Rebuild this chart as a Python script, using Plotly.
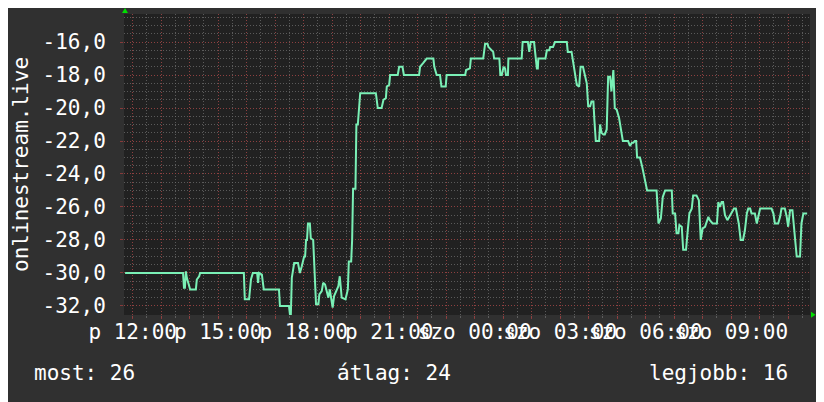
import plotly.graph_objects as go

# minutes after Friday 12:00
minutes = [
    -16, 106, 108, 110, 112, 114, 121, 133, 135, 140, 142, 234, 236, 245, 249, 253,
    262, 264, 266, 272, 276, 308, 310, 329, 331, 333, 335, 340, 348, 352, 356, 361,
    363, 365, 367, 369, 373, 375, 380, 382, 386, 391, 393, 398, 401, 405, 408, 412,
    415, 419, 421, 424, 429, 433, 436, 440, 448, 453, 455, 460, 462, 464, 469, 471,
    474, 476, 479, 512, 516, 524, 528, 533, 535, 540, 542, 558, 561, 568, 571, 603,
    605, 611, 619, 633, 635, 640, 647, 650, 659, 661, 700, 702, 710, 712, 738, 742,
    747, 749, 752, 756, 759, 761, 772, 774, 777, 781, 784, 786, 790, 791, 819, 821,
    832, 835, 838, 845, 847, 851, 853, 854, 869, 872, 877, 879, 885, 889, 914, 916,
    924, 928, 931, 935, 940, 943, 948, 952, 956, 959, 963, 966, 970, 972, 975, 982,
    984, 987, 991, 994, 998, 1001, 1005, 1008, 1012, 1015, 1019, 1024, 1028, 1032, 1043, 1047,
    1051, 1054, 1057, 1060, 1062, 1068, 1073, 1078, 1083, 1103, 1107, 1112, 1116, 1121, 1135, 1137,
    1142, 1145, 1149, 1151, 1156, 1159, 1165, 1168, 1172, 1177, 1180, 1187, 1192, 1196, 1200, 1205,
    1212, 1215, 1221, 1230, 1233, 1236, 1240, 1243, 1247, 1252, 1256, 1261, 1266, 1270, 1273, 1276,
    1280, 1285, 1289, 1293, 1296, 1300, 1303, 1310, 1314, 1317, 1321, 1345, 1349, 1352, 1359, 1363,
    1366, 1373, 1377, 1380, 1384, 1389, 1394, 1398, 1405, 1408, 1412, 1420,
]
values = [
    -30.0, -30.0, -30.9, -30.9, -29.9, -30.3, -31.0, -31.0, -30.4, -30.2, -30.0, -30.0, -31.6, -31.6, -30.4, -30.0,
    -30.0, -30.6, -30.0, -30.1, -31.0, -31.0, -32.0, -32.0, -32.5, -32.5, -30.3, -29.4, -29.4, -30.0, -29.6, -29.0,
    -29.0, -28.0, -28.0, -27.0, -27.0, -27.9, -28.0, -29.5, -31.9, -31.9, -31.3, -31.1, -30.6, -30.7, -31.0, -31.5,
    -31.0, -31.6, -32.1, -31.4, -31.0, -30.8, -30.2, -31.5, -31.6, -31.0, -29.3, -29.3, -28.0, -24.9, -24.9, -21.0,
    -21.0, -20.2, -19.1, -19.1, -20.0, -20.0, -19.5, -19.4, -18.7, -18.6, -18.0, -18.0, -17.5, -17.5, -18.0, -18.0,
    -17.5, -17.3, -17.0, -17.0, -17.5, -18.0, -18.0, -18.7, -18.7, -18.0, -18.0, -17.7, -17.6, -17.0, -17.0, -16.1,
    -16.1, -16.3, -16.4, -16.5, -16.6, -17.0, -17.0, -18.0, -18.0, -17.5, -17.6, -18.0, -18.0, -17.0, -17.0, -16.0,
    -16.0, -16.6, -16.0, -16.0, -16.6, -17.6, -17.6, -17.0, -17.0, -16.5, -16.5, -16.3, -16.3, -16.0, -16.0, -16.6,
    -16.6, -17.4, -17.9, -18.6, -18.7, -17.5, -17.5, -18.0, -18.5, -19.9, -19.9, -19.6, -19.6, -20.7, -22.0, -22.0,
    -21.0, -21.5, -21.6, -21.6, -21.3, -18.1, -18.1, -19.0, -17.7, -20.0, -20.1, -20.6, -21.3, -22.0, -22.0, -22.3,
    -22.1, -22.1, -22.0, -22.0, -23.0, -23.0, -23.6, -24.4, -25.0, -25.0, -27.0, -26.7, -25.4, -25.0, -25.0, -26.4,
    -26.4, -27.6, -27.6, -27.1, -27.2, -28.6, -28.6, -27.6, -26.4, -26.1, -25.3, -25.3, -25.6, -28.0, -27.3, -27.2,
    -26.6, -26.8, -27.0, -27.0, -25.7, -26.0, -25.7, -25.7, -26.5, -26.8, -26.6, -26.3, -26.1, -26.1, -26.6, -27.0,
    -28.0, -28.0, -27.4, -26.4, -26.1, -26.1, -26.4, -26.4, -27.0, -26.6, -26.1, -26.1, -26.4, -27.0, -27.0, -26.6,
    -26.1, -26.1, -26.6, -27.2, -26.2, -26.2, -28.0, -29.0, -29.0, -27.0, -26.4, -26.4,
]

x_tick_vals = [0, 180, 360, 540, 720, 900, 1080, 1260]
x_tick_text = ['p 12:00', 'p 15:00', 'p 18:00', 'p 21:00',
               'szo 00:00', 'szo 03:00', 'szo 06:00', 'szo 09:00']
y_tick_vals = [-32, -30, -28, -26, -24, -22, -20, -18, -16]
y_tick_text = ['-32,0', '-30,0', '-28,0', '-26,0', '-24,0', '-22,0', '-20,0', '-18,0', '-16,0']

legend_items = ['most: 26', 'átlag: 24', 'legjobb: 16']

FONT = 'DejaVu Sans Mono'
RED_GRID = 'rgba(150, 60, 60, 0.85)'
GRAY_GRID = 'rgba(110, 110, 110, 0.75)'

# hourly grid lines, labels only every 3 hours
hour_vals = list(range(0, 1440, 60))
hour_text = [x_tick_text[x_tick_vals.index(v)] if v in x_tick_vals else '' for v in hour_vals]

fig = go.Figure()
fig.add_trace(go.Scatter(
    x=minutes,
    y=values,
    mode='lines',
    line=dict(color='#7af0b6', width=2),
    showlegend=False,
    hoverinfo='skip',
))

fig.update_xaxes(
    range=[-18.3, 1426],
    tickmode='array',
    tickvals=hour_vals,
    ticktext=hour_text,
    tickangle=0,
    automargin=False,
    showgrid=True,
    gridcolor=RED_GRID,
    griddash='1px,2px',
    gridwidth=1,
    ticks='outside',
    ticklen=3,
    tickcolor=RED_GRID,
    ticklabelstandoff=-5,
    zeroline=False,
    showline=False,
    minor=dict(tick0=0, dtick=30, showgrid=True, gridcolor=GRAY_GRID,
               griddash='1px,2px', ticks='outside', ticklen=2, tickcolor=GRAY_GRID),
    tickfont=dict(family=FONT, size=21, color='#ffffff'),
)
fig.update_yaxes(
    range=[-32.55, -14.3],
    tickmode='array',
    tickvals=y_tick_vals,
    ticktext=y_tick_text,
    automargin=False,
    showgrid=True,
    gridcolor=RED_GRID,
    griddash='1px,2px',
    gridwidth=1,
    ticks='outside',
    ticklen=3,
    tickcolor=RED_GRID,
    ticklabelstandoff=10,
    zeroline=False,
    showline=False,
    minor=dict(tick0=0, dtick=0.5, showgrid=True, gridcolor=GRAY_GRID,
               griddash='1px,2px', ticks=''),
    tickfont=dict(family=FONT, size=21, color='#ffffff'),
)

# little green arrows at the axis ends
fig.add_shape(type='path', xref='paper', yref='paper',
              path='M -0.0029,1.0033 L 0.0058,1.0033 L 0.0015,1.0199 Z',
              fillcolor='#00e000', line=dict(width=0))
fig.add_shape(type='path', xref='paper', yref='paper',
              path='M 1.0015,0.0110 L 1.0015,-0.0090 L 1.0080,0.0010 Z',
              fillcolor='#00e000', line=dict(width=0))

fig.add_annotation(text='onlinestream.live', xref='paper', yref='paper',
                   x=-0.151, y=0.5, xanchor='center', yanchor='middle',
                   textangle=-90, showarrow=False, borderpad=0,
                   font=dict(family=FONT, size=21, color='#ffffff'))

for txt, xpos, anchor in zip(legend_items, [-0.134, 0.3076, 0.971], ['left', 'left', 'right']):
    fig.add_annotation(text=txt, xref='paper', yref='paper', x=xpos, y=-0.193,
                       xanchor=anchor, yanchor='middle', showarrow=False,
                       font=dict(family=FONT, size=21, color='#ffffff'))

# the page puts the figure 8px in from the top-left corner
fig.update_layout(
    width=816,
    height=394,
    margin=dict(l=116, r=14, t=6, b=87),
    paper_bgcolor='#303030',
    plot_bgcolor='#212121',
    font=dict(family=FONT, size=21, color='#ffffff'),
)

fig.write_html('out.html')
